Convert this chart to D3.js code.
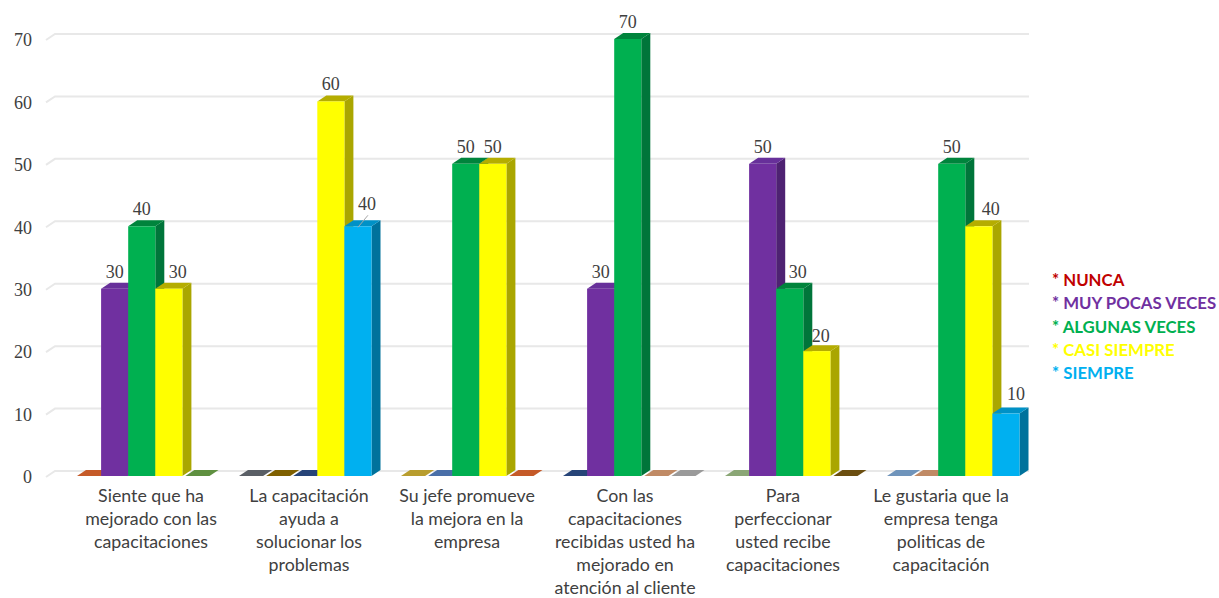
<!DOCTYPE html>
<html><head><meta charset="utf-8">
<script src="https://cdn.jsdelivr.net/npm/d3@7"></script>
<style>html,body{margin:0;padding:0;background:#fff}svg{display:block}</style>
</head><body><svg id="c" width="1219" height="598"></svg>
<script>
const categories = [
  ["Siente que ha","mejorado con las","capacitaciones"],
  ["La capacitación","ayuda a","solucionar los","problemas"],
  ["Su jefe promueve","la mejora en la","empresa"],
  ["Con las","capacitaciones","recibidas usted ha","mejorado en","atención al cliente"],
  ["Para","perfeccionar","usted recibe","capacitaciones"],
  ["Le gustaria que la","empresa tenga","politicas de","capacitación"]
];
const seriesNames = ["NUNCA","MUY POCAS VECES","ALGUNAS VECES","CASI SIEMPRE","SIEMPRE"];
const nunca      = [0,0,0,0,0,0];
const muyPocas   = [30,0,0,30,50,0];
const algunas    = [40,0,50,70,30,50];
const casiSiempre= [30,60,50,0,20,40];
const siempre    = [0,40,0,0,0,10];
const yTicks = [0,10,20,30,40,50,60,70];
const legendColors = ["#c00000","#7030a0","#00b050","#ffff00","#00b0f0"];
const barFront = [null,"#7030a0","#00b050","#ffff00","#00b0f0"];
const barTop   = [null,"#67309a","#00843c","#b5ad00","#0091c6"];
const barSide  = [null,"#4e2272","#00753a","#aaa600","#00729c"];
// floor colour of the zero-height bars, one row per series
const zeroColors = [
  ["#c55a28","#5a5f66","#b89d2e","#264478","#8aa675","#6f94bb"],
  [null,"#7f6000","#4a6fa8",null,null,"#c08a65"],
  [null,"#264478",null,null,null,null],
  [null,null,null,"#c08a65",null,null],
  ["#5f9040",null,"#c55a28","#9a9a9a","#6b4e10",null]
];
// label nudges [dx, dy] relative to the bar centre / default height
const labelNudge = {"0-3":[9,0],"1-4":[9,-5],"3-3":[0,0],"4-2":[8,0],"4-3":[4,2],"5-3":[12,0],"5-4":[10,-3]};

const values = [nunca,muyPocas,algunas,casiSiempre,siempre];
const svg = d3.select("#c");
const serif = "'Liberation Serif',serif", text = "#404040";
const dx = 9, dy = 6;

const y = d3.scaleLinear().domain([0,70]).range([476,39]);
const xGroup = d3.scalePoint().domain(d3.range(6)).range([74,884]);
const xBar = d3.scaleBand().domain(d3.range(5)).range([0,135.5]);
const xLabel = d3.scalePoint().domain(d3.range(6)).range([151,941]);
const w = xBar.bandwidth();

// grid
const grid = svg.append("g").attr("fill","none").attr("stroke","#e8e8e8").attr("stroke-width",2);
yTicks.forEach(t=>{
  const p = d3.path();
  p.moveTo(46,y(t)+1); p.lineTo(46+dx,y(t)-dy+1); p.lineTo(1029,y(t)-dy+1);
  grid.append("path").attr("d",p.toString());
});

// y axis
const ax = svg.append("g").attr("transform","translate(36,1)")
  .call(d3.axisLeft(y).tickValues(yTicks).tickSize(0).tickPadding(4));
ax.select(".domain").remove();
ax.selectAll("text").attr("font-family",serif).attr("font-size",18).attr("fill",text);

const poly = (g,pts,fill)=>g.append("path").attr("d",d3.line()(pts)+"Z").attr("fill",fill);

// bars
const bars = svg.append("g");
categories.forEach((_,c)=>{
  const g = bars.append("g");
  values.forEach((vals,s)=>{
    if(vals[c]!==0) return;
    const x0 = xGroup(c)+xBar(s)+3, yb = y(0);
    poly(g,[[x0,yb],[x0+w-3,yb],[x0+w-3+dx,yb-dy],[x0+dx,yb-dy]],zeroColors[s][c]);
  });
  values.forEach((vals,s)=>{
    const v = vals[c]; if(v===0) return;
    const x0 = xGroup(c)+xBar(s), yt = y(v), yb = y(0);
    poly(g,[[x0+w,yt],[x0+w+dx,yt-dy],[x0+w+dx,yb-dy],[x0+w,yb]],barSide[s]);
    poly(g,[[x0,yt],[x0+dx,yt-dy],[x0+w+dx,yt-dy],[x0+w,yt]],barTop[s]);
    g.append("rect").attr("x",x0).attr("y",yt).attr("width",w).attr("height",yb-yt).attr("fill",barFront[s]);
  });
});

// value labels
const labels = svg.append("g").attr("font-family",serif).attr("font-size",18).attr("fill",text).attr("text-anchor","middle");
values.forEach((vals,s)=>vals.forEach((v,c)=>{
  if(v===0) return;
  const n = labelNudge[c+"-"+s]||[0,0];
  const cx = xGroup(c)+xBar(s)+w/2, yt = y(v);
  if(c===1&&s===4){
    svg.append("line").attr("x1",cx).attr("y1",yt+1).attr("x2",cx+10).attr("y2",yt-11)
      .attr("stroke","#a6a6a6").attr("stroke-width",1);
  }
  labels.append("text").attr("x",cx+n[0]).attr("y",yt-11+n[1]).text(v);
}));

// category labels
const cl = svg.append("g").attr("font-family","Lato,sans-serif").attr("font-size",17.8).attr("fill",text).attr("text-anchor","middle");
categories.forEach((lines,c)=>{
  lines.forEach((l,i)=>{
    cl.append("text").attr("x",xLabel(c)).attr("y",501.5+i*23).text(l);
  });
});

// legend
const lg = svg.append("g").attr("font-family","Lato,sans-serif").attr("font-size",16.8).attr("font-weight",700);
seriesNames.forEach((n,i)=>{
  lg.append("text").attr("x",1052).attr("y",286+i*23.3).attr("fill",legendColors[i]).text("* "+n);
});
</script></body></html>
